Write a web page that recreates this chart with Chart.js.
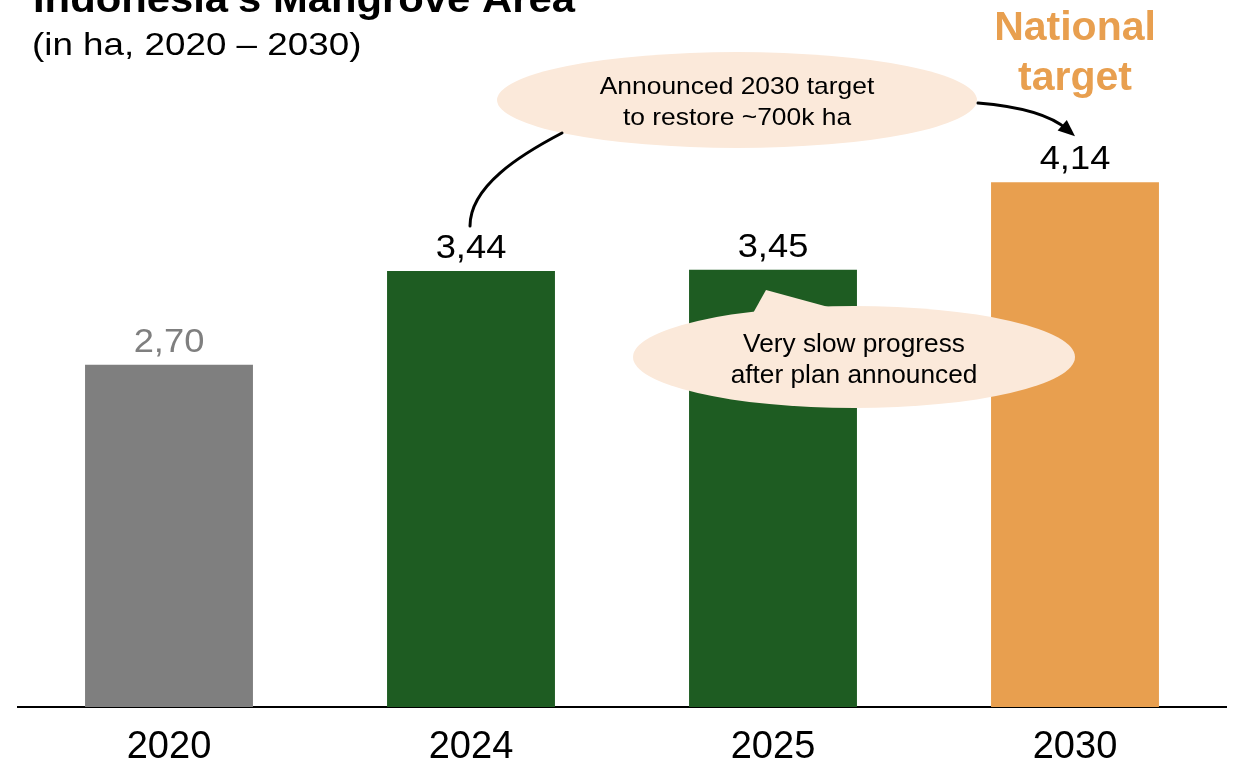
<!DOCTYPE html>
<html>
<head>
<meta charset="utf-8">
<script src="https://cdn.jsdelivr.net/npm/chart.js"></script>
<style>
  html, body { margin: 0; padding: 0; background: #fff; }
  #wrap { width: 1235px; height: 761px; position: relative; }
</style>
</head>
<body>
<div id="wrap"><canvas id="mangroveChart"></canvas></div>
<script>
// Mangrove area in million ha
const years = ['2020', '2024', '2025', '2030'];
const areaMha = [2.70, 3.44, 3.45, 4.14];
const barColors = ['#7f7f7f', '#1e5c22', '#1e5c22', '#e89f4f'];
const labelColors = ['#7f7f7f', '#000000', '#000000', '#000000'];

const FONT = '"Liberation Sans", Arial, sans-serif';
const CALLOUT = '#fbe9da';

function drawText(ctx, str, x, y, font, color, align, sx) {
  ctx.save();
  ctx.font = font;
  ctx.fillStyle = color;
  ctx.textAlign = align;
  ctx.textBaseline = 'alphabetic';
  ctx.translate(x, y);
  ctx.scale(sx || 1, 1);
  ctx.fillText(str, 0, 0);
  ctx.restore();
}

function ellipse(ctx, cx, cy, rx, ry) {
  ctx.beginPath();
  ctx.ellipse(cx, cy, rx, ry, 0, 0, Math.PI * 2);
  ctx.fillStyle = CALLOUT;
  ctx.fill();
}

const annotations = {
  id: 'annotations',
  afterDatasetsDraw(chart) {
    const ctx = chart.ctx;
    const xs = chart.scales.x, ys = chart.scales.y;
    const bx = i => xs.getPixelForValue(i);
    const by = v => ys.getPixelForValue(v);

    // value labels above bars
    areaMha.forEach((v, i) => {
      drawText(ctx, v.toFixed(2).replace('.', ','), bx(i), by(v) - 13,
        '33px ' + FONT, labelColors[i], 'center', 1.1);
    });

    // heading
    drawText(ctx, "Indonesia's Mangrove Area", 33, 12, 'bold 38px ' + FONT, '#000', 'left', 1.1);
    drawText(ctx, '(in ha, 2020 \u2013 2030)', 32, 55, '32px ' + FONT, '#000', 'left', 1.15);

    // national target label over the last bar
    drawText(ctx, 'National', bx(3), 40, 'bold 41px ' + FONT, '#e89f4f', 'center');
    drawText(ctx, 'target', bx(3), 90, 'bold 41px ' + FONT, '#e89f4f', 'center');

    // announcement callout
    ellipse(ctx, 737, 100, 240, 48);
    drawText(ctx, 'Announced 2030 target', 737, 94, '24px ' + FONT, '#000', 'center', 1.1);
    drawText(ctx, 'to restore ~700k ha', 737, 125, '24px ' + FONT, '#000', 'center', 1.1);

    ctx.save();
    ctx.strokeStyle = '#000';
    ctx.lineWidth = 3;
    ctx.lineCap = 'round';
    // connector down to the 2024 label
    const ex = bx(1) - 1, ey = by(areaMha[1]) - 45;
    ctx.beginPath();
    ctx.moveTo(562, 133);
    ctx.bezierCurveTo(520, 155, ex, ey - 40, ex, ey);
    ctx.stroke();
    // arrow to the 2030 label
    const tx = bx(3), ty = by(areaMha[3]) - 46;
    const cx = tx - 32, cy = ty - 28;
    ctx.beginPath();
    ctx.moveTo(978, 103);
    ctx.quadraticCurveTo(cx, cy, tx - 8, ty - 7);
    ctx.stroke();
    const ang = Math.atan2(ty - cy, tx - cx);
    ctx.beginPath();
    ctx.moveTo(tx, ty);
    ctx.lineTo(tx - 17 * Math.cos(ang) + 7 * Math.sin(ang), ty - 17 * Math.sin(ang) - 7 * Math.cos(ang));
    ctx.lineTo(tx - 17 * Math.cos(ang) - 7 * Math.sin(ang), ty - 17 * Math.sin(ang) + 7 * Math.cos(ang));
    ctx.closePath();
    ctx.fillStyle = '#000';
    ctx.fill();
    ctx.restore();

    // progress callout with a pointer up to the 2025 bar
    ellipse(ctx, 854, 357, 221, 51);
    ctx.beginPath();
    ctx.moveTo(752, 315);
    ctx.lineTo(766, 290);
    ctx.lineTo(832, 308);
    ctx.closePath();
    ctx.fillStyle = CALLOUT;
    ctx.fill();
    drawText(ctx, 'Very slow progress', 854, 352, '25px ' + FONT, '#000', 'center', 1.05);
    drawText(ctx, 'after plan announced', 854, 383, '25px ' + FONT, '#000', 'center', 1.05);
  }
};

new Chart(document.getElementById('mangroveChart'), {
  type: 'bar',
  data: {
    labels: years,
    datasets: [{
      data: areaMha,
      backgroundColor: barColors,
      borderWidth: 0,
      barPercentage: 0.556,
      categoryPercentage: 1
    }]
  },
  options: {
    responsive: true,
    maintainAspectRatio: false,
    animation: false,
    layout: { padding: { left: 18, right: 9, top: 10, bottom: -28 } },
    plugins: { legend: { display: false }, tooltip: { enabled: false } },
    scales: {
      x: {
        grid: { display: false, drawTicks: false },
        border: { display: true, color: '#000', width: 2 },
        ticks: { color: '#000', font: { family: FONT, size: 38, lineHeight: 1 }, padding: 22 }
      },
      y: { display: false, min: 0, max: 5.5 }
    }
  },
  plugins: [annotations]
});
</script>
</body>
</html>
